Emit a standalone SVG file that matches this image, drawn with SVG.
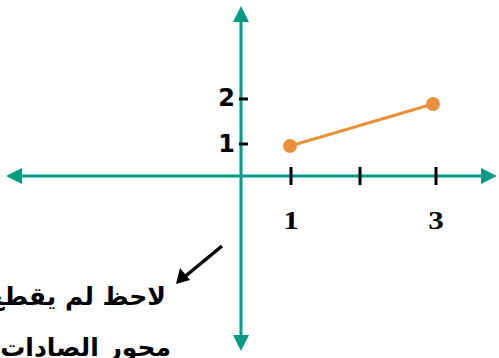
<svg xmlns="http://www.w3.org/2000/svg" width="499" height="358" viewBox="0 0 499 358">
<style>
.axis{stroke:#009a85;stroke-width:3;fill:none}
.tick{stroke:#000;stroke-width:3}
.xl{font-family:"Liberation Serif",serif;font-weight:bold;font-size:25px;fill:#000;text-anchor:middle}
.yl{font-family:"DejaVu Sans",sans-serif;font-weight:bold;font-size:24px;fill:#000;text-anchor:end}
.ar{font-family:"DejaVu Sans",sans-serif;font-weight:bold;font-size:25px;fill:#000;text-anchor:start}
</style>
<rect width="499" height="358" fill="#fff"/>
<g id="connectors">
<line class="axis" x1="22" y1="176" x2="482" y2="176"/>
<path d="M6,176 L22,168 L22,184 Z" fill="#009a85"/>
<path d="M497,176 L481,168 L481,184 Z" fill="#009a85"/>
<line class="axis" x1="241" y1="22" x2="241" y2="335"/>
<path d="M241,6 L233,22 L249,22 Z" fill="#009a85"/>
<path d="M241,351 L233,335 L249,335 Z" fill="#009a85"/>
<line x1="222" y1="246" x2="182" y2="279" stroke="#000" stroke-width="3.5"/>
<path d="M176,284 L180,268 L190,280 Z" fill="#000"/>
</g>
<g id="ticks">
<line class="tick" x1="291" y1="167" x2="291" y2="185"/>
<line class="tick" x1="360" y1="167" x2="360" y2="185"/>
<line class="tick" x1="436" y1="167" x2="436" y2="185"/>
<line class="tick" x1="239" y1="99" x2="248" y2="99"/>
<line class="tick" x1="239" y1="144" x2="248" y2="144"/>
</g>
<g id="labels">
<text class="xl" x="291" y="229" transform="translate(291 0) scale(1.25 1) translate(-291 0)">1</text>
<text class="xl" x="436" y="229" transform="translate(436 0) scale(1.25 1) translate(-436 0)">3</text>
<text class="yl" x="235" y="106">2</text>
<text class="yl" x="235" y="152">1</text>
</g>
<g id="segment">
<line x1="290" y1="146" x2="433" y2="104" stroke="#e8913a" stroke-width="3"/>
<circle cx="290" cy="146" r="7" fill="#e8913a"/>
<circle cx="433" cy="104" r="7" fill="#e8913a"/>
</g>
<g id="note">
<text class="ar" x="166" y="305" direction="rtl">لاحظ لم يقطع</text>
<text class="ar" x="171" y="356" direction="rtl">محور الصادات</text>
</g>
</svg>
